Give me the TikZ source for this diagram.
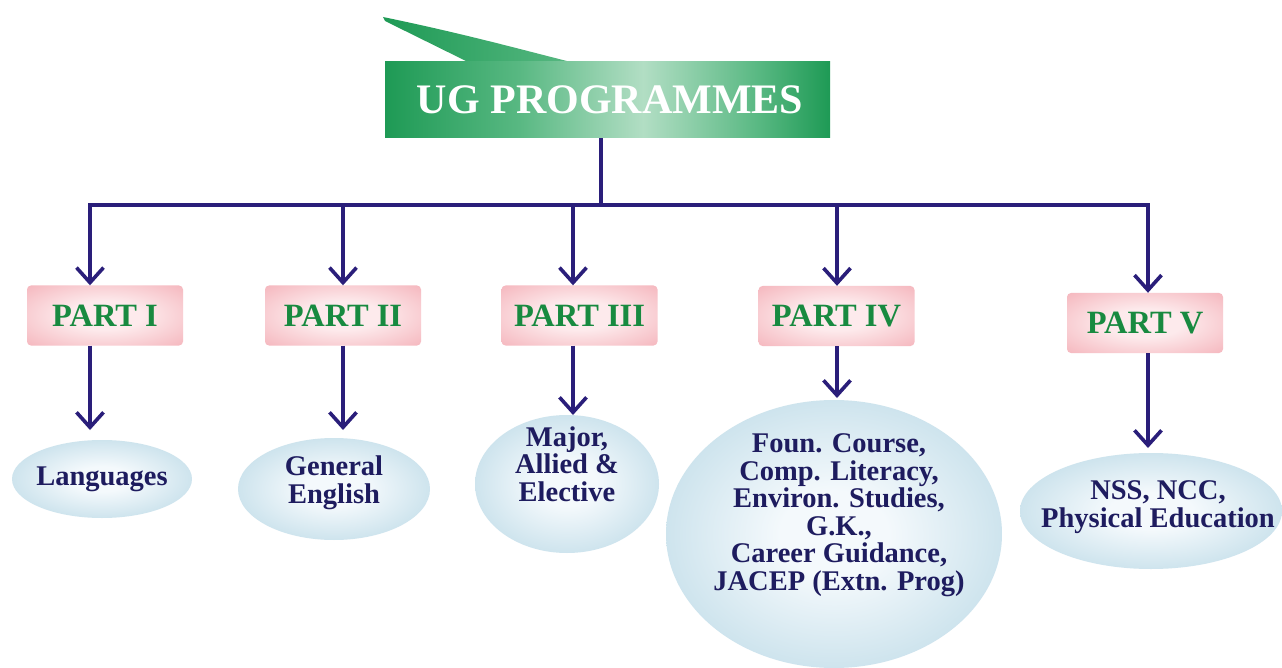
\documentclass[tikz,border=0pt]{standalone}
\usepackage{fontspec}
\setmainfont{Liberation Serif}
\usetikzlibrary{arrows.meta,shapes.geometric}
\definecolor{navy}{RGB}{30,28,95}
\definecolor{linec}{RGB}{42,30,122}
\definecolor{gtext}{RGB}{24,138,64}
\definecolor{pinkc}{RGB}{253,234,236}
\definecolor{pinke}{RGB}{240,152,162}
\definecolor{bluec}{RGB}{244,249,252}
\definecolor{bluee}{RGB}{150,197,216}
\definecolor{gdark}{RGB}{30,154,85}
\definecolor{gmid}{RGB}{88,184,130}
\definecolor{glight}{RGB}{178,222,196}
\pgfdeclareradialshading{pinkshade}{\pgfpoint{0bp}{0bp}}{color(0bp)=(pinkc); color(12bp)=(pinkc); color(50bp)=(pinke); color(72bp)=(pinke)}
\pgfdeclareradialshading{blueshade}{\pgfpoint{0bp}{0bp}}{color(0bp)=(bluec); color(8bp)=(bluec); color(50bp)=(bluee); color(72bp)=(bluee)}
\pgfdeclarehorizontalshading{greenshade}{100bp}{color(0bp)=(gdark); color(25bp)=(gdark); color(40bp)=(gmid); color(54bp)=(glight); color(67bp)=(gmid); color(75bp)=(gdark); color(100bp)=(gdark)}
\tikzset{
  line/.style={draw=linec, line width=3.6pt, line join=miter},
  arr/.style={line, -{Straight Barb[length=15pt,width=27pt]}},
  banner/.style={rectangle, minimum width=445pt, minimum height=76pt, inner sep=0pt,
    shade, shading=greenshade, text=white, font=\fontsize{42}{42}\selectfont\bfseries},
  partbox/.style={rectangle, rounded corners=4pt, minimum width=156pt, minimum height=60pt,
    inner sep=0pt, shade, shading=pinkshade, text=gtext, font=\fontsize{32.5}{32.5}\selectfont\bfseries},
  oval/.style={ellipse, inner sep=0pt, shade, shading=blueshade},
  ovaltext/.style={text=navy, font=\fontsize{28.5}{27.5}\selectfont\bfseries, align=center, inner sep=0pt},
}
\begin{document}
\begin{tikzpicture}[x=1pt,y=-1pt]
\useasboundingbox (0,0) rectangle (1282,668);
\fill[white] (0,0) rectangle (1282,668);
% banner tab
\shade[left color=gdark, right color=gmid] (383,17) .. controls (470,35) and (530,52) .. (575,63) -- (470,63) -- (385,21) -- cycle;
\node[banner] (ug) at (607.5,100) {\hspace*{5pt}UG PROGRAMMES};
% parts
\node[partbox] (p1) at (105,315.5) {PART I};
\node[partbox] (p2) at (343,315.5) {PART II};
\node[partbox] (p3) at (579.5,315.5) {PART III};
\node[partbox] (p4) at (836.5,316) {PART IV};
\node[partbox] (p5) at (1145,323) {PART V};
% ovals
\node[oval, minimum width=180pt, minimum height=78pt,
  label={[ovaltext]center:Languages}] (e1) at (102,479) {};
\node[oval, minimum width=192pt, minimum height=102pt,
  label={[ovaltext,yshift=6pt]center:General\\English}] (e2) at (334,489) {};
\node[oval, minimum width=184pt, minimum height=138pt,
  label={[ovaltext,yshift=20pt]center:Major,\\Allied \&\\Elective}] (e3) at (567,484) {};
\node[oval, minimum width=336pt, minimum height=268pt,
  label={[ovaltext,xshift=5pt,yshift=19pt]center:Foun. Course,\\Comp. Literacy,\\Environ. Studies,\\G.K.,\\Career Guidance,\\JACEP (Extn. Prog)}] (e4) at (834,534) {};
\node[oval, minimum width=262pt, minimum height=116pt,
  label={[ovaltext,xshift=7pt,yshift=4pt]center:NSS, NCC,\\Physical Education}] (e5) at (1151,511) {};
% connector coordinates
\coordinate (bus) at (601,205);
\coordinate (c1) at (90,205);
\coordinate (c2) at (343,205);
\coordinate (c3) at (573,205);
\coordinate (c4) at (837,205);
\coordinate (c5) at (1148,205);
\coordinate (t1) at (90,430);
\coordinate (t2) at (343,430);
\coordinate (t3) at (573,415);
\coordinate (t4) at (837,398);
\coordinate (t5) at (1148,448);
% connectors
\draw[line] (ug.south -| bus) -- (bus);
\draw[arr] (bus) -| (p1.north -| c1);
\draw[arr] (bus) -| (p2.north -| c2);
\draw[arr] (bus) -| (p3.north -| c3);
\draw[arr] (bus) -| (p4.north -| c4);
\draw[arr] (bus) -| (p5.north -| c5);
\draw[arr] (p1.south -| t1) -- (t1);
\draw[arr] (p2.south -| t2) -- (t2);
\draw[arr] (p3.south -| t3) -- (t3);
\draw[arr] (p4.south -| t4) -- (t4);
\draw[arr] (p5.south -| t5) -- (t5);
\end{tikzpicture}
\end{document}
